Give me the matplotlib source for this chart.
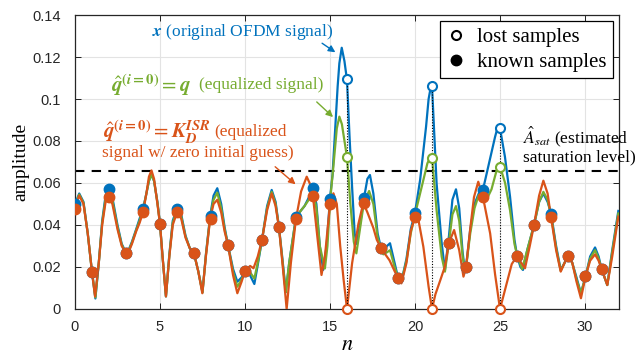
import matplotlib
matplotlib.use("Agg")
import matplotlib.pyplot as plt
from matplotlib.lines import Line2D

plt.rcParams['mathtext.fontset'] = 'stix'

# ---------------- data ----------------
blue_n = [0.0, 0.25, 0.5, 0.75, 1.0, 1.2, 1.4, 1.6, 1.8, 2.0, 2.2, 2.5, 2.75, 3.0, 3.1, 3.35, 3.6, 3.8, 4.0,
          4.2, 4.35, 4.5, 4.65, 4.85, 5.0, 5.15, 5.35, 5.55, 5.75, 6.0, 6.25, 6.5, 6.75, 7.0, 7.25, 7.5, 7.7,
          7.95, 8.15, 8.37, 8.6, 8.8, 9.0, 9.3, 9.55, 9.8, 10.0, 10.3, 10.55, 10.75, 11.0, 11.3, 11.57, 11.8,
          12.0, 12.2, 12.4, 12.6, 13.0, 13.3, 13.5, 13.75, 14.0, 14.2, 14.4, 14.6, 14.8, 15.0, 15.15, 15.3,
          15.45, 15.55, 15.69, 15.85, 16.0, 16.15, 16.3, 16.45, 16.57, 16.8, 17.0, 17.2, 17.35, 17.55, 17.8,
          18.0, 18.14, 18.35, 18.53, 18.8, 19.0, 19.2, 19.5, 19.75, 20.0, 20.3, 20.65, 20.8, 20.95, 21.0,
          21.27, 21.57, 21.76, 22.0, 22.2, 22.41, 22.6, 22.8, 22.94, 23.0, 23.25, 23.5, 23.75, 24.0, 24.31,
          24.71, 24.85, 24.96, 25.0, 25.29, 25.59, 25.85, 26.0, 26.2, 26.35, 26.6, 27.0, 27.3, 27.55, 27.8,
          28.0, 28.3, 28.57, 28.8, 29.0, 29.25, 29.5, 29.76, 30.04, 30.3, 30.59, 30.8, 30.98, 31.31, 31.6,
          31.96]
blue_v = [0.050, 0.055, 0.051, 0.036, 0.0178, 0.005, 0.022, 0.042, 0.054, 0.057, 0.053, 0.040, 0.031, 0.0268,
          0.027, 0.032, 0.038, 0.043, 0.0475, 0.055, 0.061, 0.064, 0.061, 0.051, 0.0405, 0.025, 0.006, 0.026,
          0.042, 0.048, 0.045, 0.035, 0.029, 0.0265, 0.018, 0.008, 0.026, 0.0443, 0.054, 0.0575, 0.050, 0.039,
          0.0305, 0.019, 0.013, 0.015, 0.0181, 0.016, 0.0119, 0.021, 0.0329, 0.049, 0.0567, 0.051, 0.0389,
          0.024, 0.008, 0.022, 0.044, 0.047, 0.049, 0.053, 0.0575, 0.050, 0.030, 0.0186, 0.030, 0.0527, 0.064,
          0.085, 0.106, 0.117, 0.1244, 0.118, 0.109, 0.082, 0.058, 0.036, 0.031, 0.042, 0.0528, 0.062, 0.0638,
          0.055, 0.036, 0.029, 0.0273, 0.030, 0.0313, 0.022, 0.015, 0.013, 0.024, 0.038, 0.0459, 0.0614,
          0.0868, 0.100, 0.1067, 0.1062, 0.0598, 0.0313, 0.0186, 0.035, 0.052, 0.057, 0.048, 0.027, 0.018,
          0.0198, 0.038, 0.050, 0.055, 0.0569, 0.0678, 0.082, 0.0862, 0.0868, 0.086, 0.0725, 0.0535, 0.033,
          0.0255, 0.020, 0.0186, 0.028, 0.040, 0.051, 0.055, 0.051, 0.0456, 0.030, 0.0186, 0.022, 0.0254,
          0.022, 0.015, 0.0075, 0.0157, 0.025, 0.0293, 0.025, 0.0189, 0.0114, 0.028, 0.0467]

green_n = [0.0, 0.25, 0.5, 0.75, 1.0, 1.2, 1.4, 1.6, 1.8, 2.0, 2.2, 2.5, 2.75, 3.0, 3.1, 3.35, 3.6, 3.8, 4.0,
           4.2, 4.35, 4.5, 4.65, 4.85, 5.0, 5.15, 5.35, 5.55, 5.75, 6.0, 6.25, 6.5, 6.75, 7.0, 7.25, 7.5, 7.7,
           7.95, 8.15, 8.37, 8.6, 8.8, 9.0, 9.3, 9.55, 9.8, 10.0, 10.3, 10.55, 10.75, 11.0, 11.3, 11.57, 11.8,
           12.0, 12.2, 12.4, 12.6, 13.0, 13.3, 13.5, 13.75, 14.0, 14.2, 14.4, 14.7, 14.85, 15.0, 15.2, 15.4,
           15.55, 15.7, 15.85, 16.0, 16.2, 16.4, 16.55, 16.8, 17.0, 17.3, 17.55, 17.8, 18.0, 18.14, 18.35,
           18.53, 18.8, 19.0, 19.2, 19.5, 19.75, 20.0, 20.39, 20.73, 20.9, 21.0, 21.27, 21.57, 21.76, 22.0,
           22.2, 22.41, 22.6, 22.8, 22.94, 23.0, 23.25, 23.5, 23.75, 24.0, 24.2, 24.5, 24.8, 25.0, 25.3,
           25.59, 25.85, 26.0, 26.3, 26.6, 27.0, 27.3, 27.55, 27.8, 28.0, 28.3, 28.57, 28.8, 29.0, 29.25, 29.5,
           29.76, 30.04, 30.3, 30.59, 30.8, 30.98, 31.31, 31.6, 31.96]
green_v = [0.049, 0.0545, 0.0505, 0.036, 0.0177, 0.0055, 0.022, 0.041, 0.0525, 0.0555, 0.0515, 0.039, 0.0305,
           0.0267, 0.0265, 0.0315, 0.0375, 0.042, 0.047, 0.055, 0.061, 0.064, 0.061, 0.0505, 0.0405, 0.025,
           0.006, 0.0255, 0.041, 0.047, 0.044, 0.0345, 0.029, 0.0265, 0.018, 0.0078, 0.0255, 0.0437, 0.052,
           0.0554, 0.048, 0.038, 0.0305, 0.0175, 0.0106, 0.014, 0.0181, 0.0175, 0.0145, 0.022, 0.0329, 0.048,
           0.0558, 0.050, 0.0388, 0.023, 0.008, 0.022, 0.0435, 0.047, 0.049, 0.052, 0.0555, 0.048, 0.030,
           0.0193, 0.030, 0.051, 0.068, 0.086, 0.0916, 0.088, 0.080, 0.0722, 0.050, 0.032, 0.0265, 0.040, 0.051,
           0.0562, 0.050, 0.034, 0.029, 0.026, 0.027, 0.028, 0.020, 0.015, 0.013, 0.023, 0.036, 0.045, 0.058,
           0.0694, 0.0722, 0.0722, 0.047, 0.0249, 0.0178, 0.032, 0.045, 0.049, 0.042, 0.025, 0.018, 0.0198,
           0.036, 0.048, 0.0543, 0.053, 0.0519, 0.057, 0.066, 0.0678, 0.060, 0.047, 0.031, 0.0257, 0.019, 0.028,
           0.040, 0.051, 0.0558, 0.052, 0.0447, 0.029, 0.0182, 0.022, 0.0254, 0.022, 0.014, 0.0075, 0.0157,
           0.024, 0.028, 0.024, 0.0189, 0.0114, 0.027, 0.0455]

orange_n = [0.0, 0.25, 0.5, 0.75, 1.0, 1.18, 1.4, 1.6, 1.8, 2.0, 2.2, 2.5, 2.75, 3.0, 3.1, 3.35, 3.6, 3.8, 4.0,
            4.2, 4.35, 4.5, 4.65, 4.85, 5.0, 5.15, 5.35, 5.55, 5.75, 6.0, 6.25, 6.5, 6.75, 7.0, 7.25, 7.49, 7.7,
            7.95, 8.15, 8.37, 8.6, 8.8, 9.0, 9.3, 9.55, 9.8, 10.0, 10.3, 10.5, 10.75, 11.0, 11.3, 11.57, 11.8,
            12.0, 12.2, 12.45, 12.7, 13.0, 13.3, 13.63, 13.8, 14.0, 14.25, 14.5, 14.7, 15.0, 15.2, 15.4, 15.6,
            15.8, 16.0, 16.3, 16.67, 16.96, 17.2, 17.55, 17.75, 18.0, 18.5, 18.8, 19.0, 19.2, 19.5, 19.75, 20.0,
            20.15, 20.49, 20.8, 21.0, 21.2, 21.5, 21.75, 22.0, 22.3, 22.6, 22.85, 23.0, 23.24, 23.47, 23.72,
            24.0, 24.42, 24.71, 25.0, 25.39, 25.69, 26.0, 26.25, 26.47, 26.75, 27.0, 27.3, 27.55, 27.8, 28.0,
            28.3, 28.57, 28.8, 29.0, 29.25, 29.5, 29.76, 30.04, 30.3, 30.59, 30.8, 30.98, 31.31, 31.6, 31.96]
orange_v = [0.048, 0.054, 0.050, 0.036, 0.0175, 0.006, 0.022, 0.040, 0.051, 0.0535, 0.050, 0.038, 0.030, 0.0265,
            0.026, 0.031, 0.037, 0.041, 0.046, 0.055, 0.063, 0.066, 0.062, 0.050, 0.0405, 0.025, 0.006, 0.025,
            0.040, 0.046, 0.043, 0.034, 0.029, 0.0265, 0.018, 0.0075, 0.025, 0.043, 0.050, 0.052, 0.046, 0.037,
            0.0305, 0.016, 0.0075, 0.013, 0.0181, 0.0205, 0.0194, 0.025, 0.0329, 0.047, 0.055, 0.049, 0.0387,
            0.022, 0.0, 0.022, 0.043, 0.056, 0.063, 0.060, 0.0535, 0.035, 0.0162, 0.025, 0.0498, 0.0551, 0.050,
            0.030, 0.014, 0.0, 0.0218, 0.0405, 0.0505, 0.046, 0.0386, 0.033, 0.0289, 0.0232, 0.018, 0.0146,
            0.0122, 0.022, 0.037, 0.044, 0.0447, 0.0297, 0.0106, 0.0, 0.007, 0.014, 0.020, 0.0316, 0.0376, 0.028,
            0.0154, 0.0198, 0.0376, 0.0533, 0.0606, 0.0532, 0.036, 0.0165, 0.0, 0.0122, 0.0214, 0.0252, 0.022,
            0.0194, 0.030, 0.040, 0.054, 0.0611, 0.055, 0.0437, 0.028, 0.0178, 0.022, 0.0254, 0.022, 0.013,
            0.0051, 0.0157, 0.023, 0.026, 0.023, 0.0189, 0.0114, 0.025, 0.044]

known_n = [0, 1, 2, 3, 4, 5, 6, 7, 8, 9, 10, 11, 12, 13, 14, 15, 17, 18, 19, 20, 22, 23, 24, 26, 27, 28, 29,
           30, 31]
known_blue = [0.0498, 0.0178, 0.0571, 0.0265, 0.0475, 0.0405, 0.0476, 0.0265, 0.0443, 0.0305, 0.0181, 0.0329,
              0.0389, 0.0440, 0.0575, 0.0522, 0.0527, 0.0292, 0.0146, 0.0456, 0.0316, 0.0198, 0.0567, 0.0252,
              0.0400, 0.0451, 0.0252, 0.0157, 0.0190]
known_orange = [0.0476, 0.0178, 0.0535, 0.0265, 0.0460, 0.0405, 0.0460, 0.0265, 0.0429, 0.0305, 0.0181, 0.0329,
                0.0389, 0.0429, 0.0538, 0.0500, 0.0503, 0.0292, 0.0146, 0.0440, 0.0316, 0.0198, 0.0535, 0.0252,
                0.0400, 0.0440, 0.0252, 0.0157, 0.0190]

lost_n = [16, 21, 25]
lost_blue = [0.1094, 0.1064, 0.0860]
lost_green = [0.0722, 0.0720, 0.0678]
lost_orange = [0.0, 0.0, 0.0]

a_sat = 0.0659

# ---------------- style ----------------
C_BLUE = '#0072BD'
C_ORANGE = '#D95319'
C_GREEN = '#77AC30'
SERIF = 'Liberation Serif'
SANS = 'Liberation Sans'

fig = plt.figure(figsize=(6.36, 3.59), dpi=100)
ax = fig.add_axes([0.1179, 0.1393, 0.8554, 0.8189])

ax.plot(blue_n, blue_v, color=C_BLUE, lw=1.6, zorder=3)
ax.plot(green_n, green_v, color=C_GREEN, lw=1.6, zorder=4)
ax.plot(orange_n, orange_v, color=C_ORANGE, lw=1.6, zorder=5)

ax.axhline(a_sat, color='black', lw=1.5, ls=(0, (4.5, 3.5)), zorder=2)

for n, v in zip(lost_n, lost_blue):
    ax.plot([n, n], [0, v], color='black', lw=0.8, ls=(0, (1, 1.5)), zorder=6)

ax.plot(known_n, known_blue, 'o', color=C_BLUE, ms=7.5, zorder=7)
ax.plot(known_n, known_orange, 'o', color=C_ORANGE, ms=7.5, zorder=8)

ax.plot(lost_n, lost_blue, 'o', mfc='white', mec=C_BLUE, mew=1.5, ms=6.5, zorder=9)
ax.plot(lost_n, lost_green, 'o', mfc='white', mec=C_GREEN, mew=1.5, ms=6.5, zorder=9)
ax.plot(lost_n, lost_orange, 'o', mfc='white', mec=C_ORANGE, mew=1.5, ms=6.5, zorder=9, clip_on=False)

ax.set_xlim(0, 32)
ax.set_ylim(0, 0.14)
ax.set_xticks([0, 5, 10, 15, 20, 25, 30])
ax.set_yticks([0, 0.02, 0.04, 0.06, 0.08, 0.1, 0.12, 0.14])
ax.set_yticklabels(['0', '0.02', '0.04', '0.06', '0.08', '0.1', '0.12', '0.14'])
for lab in ax.get_xticklabels() + ax.get_yticklabels():
    lab.set_fontfamily(SANS)
    lab.set_fontsize(10.5)
    lab.set_color('#262626')
ax.tick_params(direction='in', length=4, width=0.6, top=True, right=True)
ax.tick_params(axis='y', pad=10)
ax.tick_params(axis='x', pad=8)
ax.grid(True, color='#e3e3e3', lw=0.8, zorder=0)
ax.set_axisbelow(True)
for s in ax.spines.values():
    s.set_linewidth(0.9)
    s.set_color('#262626')

ax.set_ylabel('amplitude', fontfamily=SERIF, fontsize=14, labelpad=2)
ax.set_xlabel(r'$n$', fontsize=16, labelpad=0)

# legend
h_lost = Line2D([], [], ls='none', marker='o', mfc='white', mec='black', mew=1.5, ms=6.5)
h_known = Line2D([], [], ls='none', marker='o', mfc='black', mec='black', ms=7.5)
leg = ax.legend([h_lost, h_known], ['lost samples', 'known samples'], loc='upper right',
                prop={'family': SERIF, 'size': 15}, frameon=True, fancybox=False,
                edgecolor='black', framealpha=1, borderpad=0.3, labelspacing=0.25,
                handlelength=1.0, handletextpad=0.5, borderaxespad=0.3)
leg.get_frame().set_linewidth(0.9)
leg.set_zorder(20)

# annotations
fs = 12.5
fm = 15
ax.text(15.2, 0.1319, r'$\mathbfit{x}$ (original OFDM signal)', color=C_BLUE, fontsize=fs,
        fontfamily=SERIF, ha='right', va='center', zorder=15)
ax.annotate('', xy=(15.45, 0.1215), xytext=(14.4, 0.1273),
            arrowprops=dict(arrowstyle='-|>', color=C_BLUE, lw=1.0, mutation_scale=10), zorder=15)

ax.text(6.8, 0.1067, r'$\hat{\mathbfit{q}}^{\mathbf{(}\mathbfit{i}\mathbf{=0)}} = \mathbfit{q}$',
        color=C_GREEN, fontsize=fm, ha='right', va='center', zorder=15)
ax.text(14.6, 0.1067, '(equalized signal)',
        color=C_GREEN, fontsize=fs, fontfamily=SERIF, ha='right', va='center', zorder=15)
ax.annotate('', xy=(15.3, 0.0905), xytext=(14.1, 0.0995),
            arrowprops=dict(arrowstyle='-|>', color=C_GREEN, lw=1.0, mutation_scale=10), zorder=15)

ax.text(7.95, 0.0843,
        r'$\hat{\mathbfit{q}}^{\mathbf{(}\mathbfit{i}\mathbf{=0)}} = \mathbfit{K}_{\mathbfit{D}}^{\mathbfit{ISR}}$',
        color=C_ORANGE, fontsize=fm, ha='right', va='center', zorder=15)
ax.text(8.2, 0.0843, '(equalized', color=C_ORANGE, fontsize=fs, fontfamily=SERIF,
        ha='left', va='center', zorder=15)
ax.text(7.25, 0.0743, 'signal w/ zero initial guess)', color=C_ORANGE, fontsize=fs,
        fontfamily=SERIF, ha='center', va='center', zorder=15)
ax.annotate('', xy=(13.1, 0.0585), xytext=(11.65, 0.0686),
            arrowprops=dict(arrowstyle='-|>', color=C_ORANGE, lw=1.0, mutation_scale=10), zorder=15)

ax.text(26.35, 0.0819, r'$\hat{A}_{sat}$ (estimated', color='black', fontsize=fs, fontfamily=SERIF,
        ha='left', va='center', zorder=15, clip_on=False)
ax.text(26.35, 0.0724, 'saturation level)', color='black', fontsize=fs, fontfamily=SERIF,
        ha='left', va='center', zorder=15, clip_on=False)

fig.savefig('out.png', dpi=100)
